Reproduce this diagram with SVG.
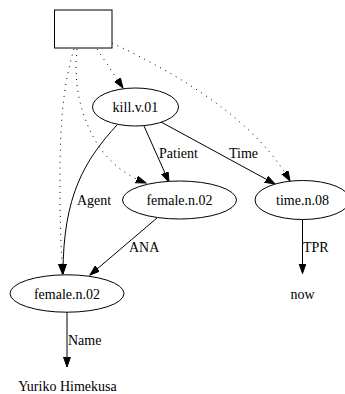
<svg xmlns="http://www.w3.org/2000/svg" width="345" height="394" viewBox="0 0 345 394">
<style>
text{font-family:"Liberation Serif","Times New Roman",serif;font-size:14px;fill:#000}
.n{text-anchor:middle}
.shape{fill:#fff;stroke:#000;stroke-width:1}
.e{fill:none;stroke:#000;stroke-width:1}
.d{stroke-dasharray:1,5}
</style>
<defs>
<marker id="ah" markerUnits="userSpaceOnUse" markerWidth="11" markerHeight="8" refX="10" refY="3.5" orient="auto">
<path d="M0,0 L10,3.5 L0,7 z" fill="#000" stroke="#000" stroke-width="1"/>
</marker>
</defs>
<rect width="345" height="394" fill="#fff"/>
<g id="connectors">
<path class="e d" d="M74,49 C63,85 60,125 60,180 C60,225 61,245 62.5,274" marker-end="url(#ah)"/>
<path class="e d" d="M77,49 C74,80 78,110 95,140 C108,162 125,175 146,183" marker-end="url(#ah)"/>
<path class="e d" d="M97,49 L123,88" marker-end="url(#ah)"/>
<path class="e d" d="M112,43 C180,75 255,120 290,181" marker-end="url(#ah)"/>
<path class="e" d="M117,125 C85,160 63,195 63,274" marker-end="url(#ah)"/>
<path class="e" d="M144,126 L169,182" marker-end="url(#ah)"/>
<path class="e" d="M161,122 L275,184" marker-end="url(#ah)"/>
<path class="e" d="M157,218 L90,275" marker-end="url(#ah)"/>
<path class="e" d="M302.5,220 L302.5,273.5" marker-end="url(#ah)"/>
<path class="e" d="M67,312 L67,367" marker-end="url(#ah)"/>
<text x="77" y="205">Agent</text>
<text x="159" y="158">Patient</text>
<text x="229" y="158">Time</text>
<text x="129" y="252">ANA</text>
<text x="303" y="252">TPR</text>
<text x="68" y="345">Name</text>
</g>
<g id="root"><rect class="shape" x="54.5" y="10" width="57.5" height="38"/></g>
<g id="kill"><ellipse class="shape" cx="135.5" cy="107" rx="43" ry="19"/><text class="n" x="135.5" y="112">kill.v.01</text></g>
<g id="female1"><ellipse class="shape" cx="179.5" cy="200" rx="57" ry="19"/><text class="n" x="179.5" y="205">female.n.02</text></g>
<g id="time"><ellipse class="shape" cx="302.5" cy="200" rx="47.5" ry="19.5"/><text class="n" x="302.5" y="205">time.n.08</text></g>
<g id="female2"><ellipse class="shape" cx="67" cy="293.5" rx="57" ry="18.7"/><text class="n" x="67" y="298.5">female.n.02</text></g>
<g id="now"><text class="n" x="302.5" y="299">now</text></g>
<g id="yuriko"><text class="n" x="67.5" y="391">Yuriko Himekusa</text></g>
</svg>
